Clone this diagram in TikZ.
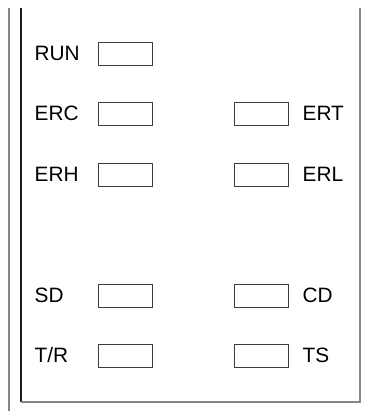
\documentclass[tikz,border=0pt]{standalone}
\usepackage{fontspec}
\setmainfont{Liberation Sans}
\usepackage{xcolor}
\usepackage{tikz}
\usetikzlibrary{positioning}
\definecolor{frameline}{HTML}{858585}
\definecolor{railline} {HTML}{1E1E1E}
\definecolor{lededge}  {HTML}{3C3C3C}
\tikzset{
  ledslot/.style={draw=lededge, line width=1pt, minimum width=54pt,
                  minimum height=23pt, inner sep=0pt},
  ledname/.style={font=\fontsize{20.8}{24}\selectfont, inner sep=0pt,
                  text=black},
}
\begin{document}
\begin{tikzpicture}[x=1pt, y=-1pt]
  \useasboundingbox (0,0) rectangle (364,411);
  % panel frame
  \coordinate (outtop) at (9,8);
  \coordinate (outbot) at (9,411);
  \coordinate (paneltl) at (21,8);
  \coordinate (panelbl) at (21,402);
  \coordinate (panelbr) at (360,402);
  \coordinate (paneltr) at (360,8);
  \draw[frameline, line width=1.1pt] (outtop) -- (outbot);
  \draw[railline, line width=1.1pt] (paneltl) -- (panelbl);
  \draw[frameline, line width=1.1pt] (panelbl) -- (panelbr) -- (paneltr);

  % left column: label, then slot
  \foreach \r/\y/\lbl in {run/54/RUN, erc/114.5/ERC, erh/175/ERH,
                          sd/295.5/SD, tr/356/{T/R}}
  {
    \node[ledslot] (\r) at (125,\y) {};
    \node[ledname, anchor=base west] (\r-lbl) at (34.5,\y+6.5) {\lbl};
  }

  % right column: slot, then label
  \foreach \r/\y/\lbl in {ert/114.5/ERT, erl/175/ERL,
                          cd/295.5/CD, ts/356/TS}
  {
    \node[ledslot] (\r) at (261.5,\y) {};
    \node[ledname, anchor=base west] (\r-lbl) at (302.5,\y+6.5) {\lbl};
  }
\end{tikzpicture}
\end{document}
